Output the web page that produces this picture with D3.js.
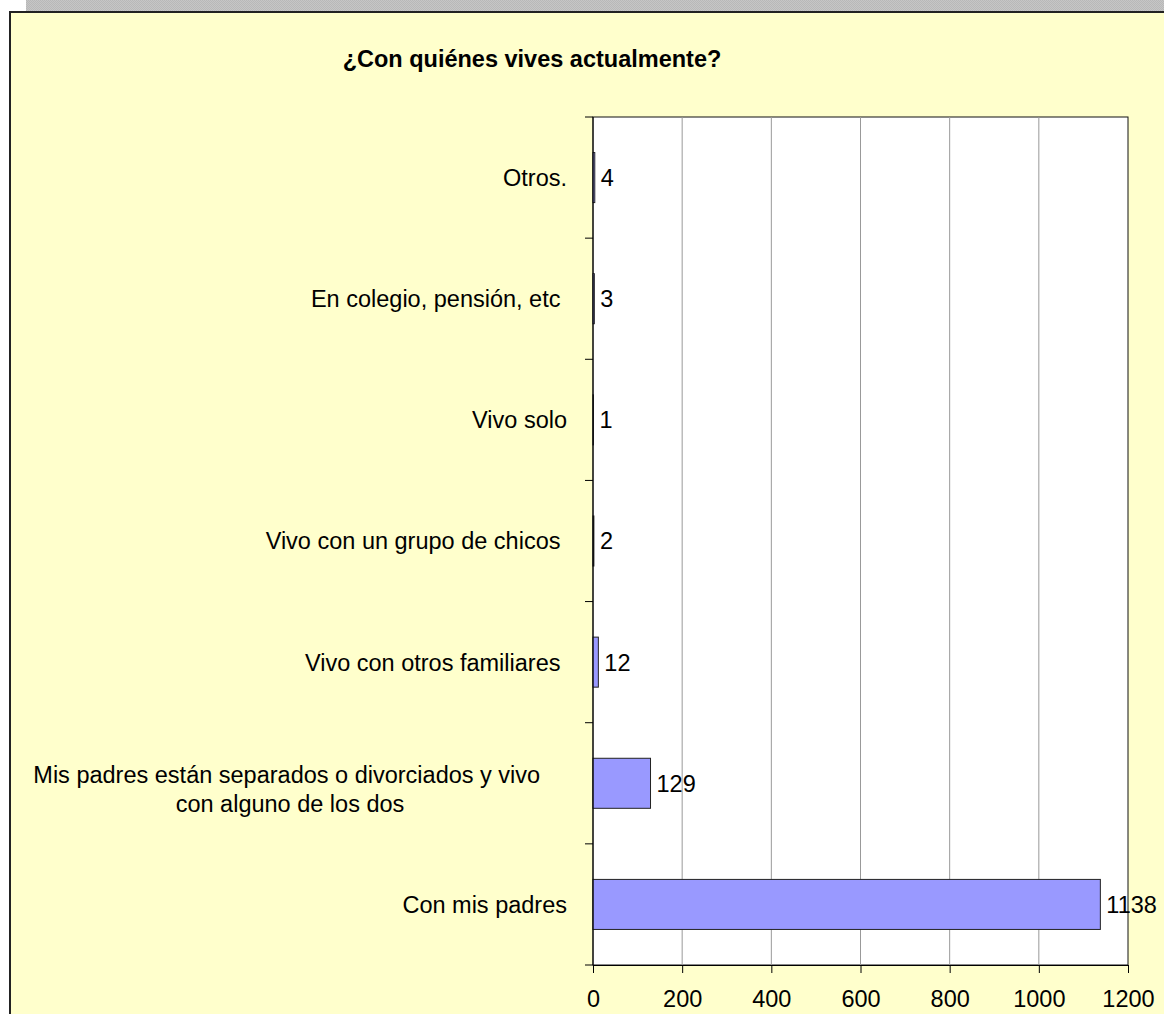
<!DOCTYPE html>
<html>
<head>
<meta charset="utf-8">
<script src="https://cdn.jsdelivr.net/npm/d3@7"></script>
<style>
  body { margin: 0; background: #fff; }
  text { font-family: "Liberation Sans", Arial, sans-serif; fill: #000; white-space: pre; }
</style>
</head>
<body>
<div id="chart"></div>
<script>
// data, top to bottom
var categories = [
  ["Otros."],
  ["En colegio, pensión, etc "],
  ["Vivo solo"],
  ["Vivo con un grupo de chicos "],
  ["Vivo con otros familiares "],
  ["Mis padres están separados o divorciados y vivo ", "con alguno de los dos"],
  ["Con mis padres"]
];
var values = [4, 3, 1, 2, 12, 129, 1138];
var xTicks = [0, 200, 400, 600, 800, 1000, 1200];
var title = "¿Con quiénes vives actualmente?";

var W = 1164, H = 1014;
var margin = {top: 117, right: 36, bottom: 49, left: 593};
var width = W - margin.left - margin.right,
    height = H - margin.top - margin.bottom;

var svg = d3.select("#chart").append("svg")
  .attr("width", W).attr("height", H);

// checkered grey strip on top
var defs = svg.append("defs");
var pat = defs.append("pattern").attr("id", "chk")
  .attr("width", 2).attr("height", 2).attr("patternUnits", "userSpaceOnUse");
pat.append("rect").attr("width", 2).attr("height", 2).attr("fill", "#c6c6c6");
pat.append("rect").attr("width", 1).attr("height", 1).attr("fill", "#b8b8b8");
pat.append("rect").attr("x", 1).attr("y", 1).attr("width", 1).attr("height", 1).attr("fill", "#b8b8b8");
svg.append("rect").attr("x", 26).attr("y", 0).attr("width", W - 26).attr("height", 12)
  .attr("fill", "url(#chk)");

// chart area
svg.append("rect").attr("x", 10).attr("y", 12).attr("width", W + 50).attr("height", H + 50)
  .attr("fill", "#ffffcc").attr("stroke", "#222").attr("stroke-width", 2);

svg.append("text")
  .attr("x", 532).attr("y", 67)
  .attr("text-anchor", "middle")
  .style("font-size", "23.5px").style("font-weight", "bold")
  .text(title);

var g = svg.append("g")
  .attr("transform", "translate(" + margin.left + "," + margin.top + ")");

var x = d3.scaleLinear().domain([0, 1200]).range([0, width]);
var y = d3.scaleBand().domain(d3.range(categories.length)).range([0, height])
  .paddingInner(0.587).paddingOuter(0.2935);
var step = y.step();

// plot area
g.append("rect").attr("width", width).attr("height", height)
  .attr("fill", "#fff").attr("stroke", "#111").attr("stroke-width", 1);

// gridlines
g.append("g").selectAll("line")
  .data(xTicks.slice(1, -1))
  .enter().append("line")
    .attr("x1", d => x(d)).attr("x2", d => x(d))
    .attr("y1", 0).attr("y2", height)
    .attr("stroke", "#999");

// bars
g.append("g").selectAll("rect")
  .data(values)
  .enter().append("rect")
    .attr("x", 0)
    .attr("y", (d, i) => y(i))
    .attr("width", d => x(d))
    .attr("height", y.bandwidth())
    .attr("fill", "#9999ff")
    .attr("stroke", "#222").attr("stroke-width", 1);

// value labels
g.append("g").selectAll("text")
  .data(values)
  .enter().append("text")
    .attr("x", d => x(d) + 6)
    .attr("y", (d, i) => y(i) + y.bandwidth() / 2)
    .attr("dy", "0.36em")
    .style("font-size", "23.5px")
    .text(d => d);

// x axis
var xAxis = g.append("g")
  .attr("transform", "translate(0," + height + ")")
  .call(d3.axisBottom(x).tickValues(xTicks).tickFormat(d3.format("d"))
    .tickSize(8).tickPadding(17).tickSizeOuter(0));
xAxis.select(".domain").attr("stroke", "#000");
xAxis.selectAll("line").attr("stroke", "#000");
xAxis.selectAll("text").style("font-size", "23.5px").attr("font-family", null);

// y axis line and ticks at category boundaries
g.append("line").attr("x1", 0).attr("x2", 0).attr("y1", 0).attr("y2", height).attr("stroke", "#000");
g.append("g").selectAll("line")
  .data(d3.range(categories.length + 1))
  .enter().append("line")
    .attr("x1", -8).attr("x2", 0)
    .attr("y1", d => d * step).attr("y2", d => d * step)
    .attr("stroke", "#000");

// category labels
var labels = g.append("g").selectAll("text")
  .data(categories)
  .enter().append("text")
    .style("font-size", "23.5px")
    .attr("text-anchor", d => d.length > 1 ? "middle" : "end")
    .attr("transform", (d, i) => "translate(" + (d.length > 1 ? 290 - margin.left : -26) + "," + (y(i) + y.bandwidth() / 2) + ")");

labels.selectAll("tspan")
  .data(d => d.map((t, k) => ({t: t, k: k, n: d.length})))
  .enter().append("tspan")
    .attr("x", 0)
    .attr("y", d => d.n > 1 ? d.k * 29 : 0)
    .attr("dy", d => d.n > 1 ? "0em" : "0.36em")
    .text(d => d.t);
</script>
</body>
</html>
